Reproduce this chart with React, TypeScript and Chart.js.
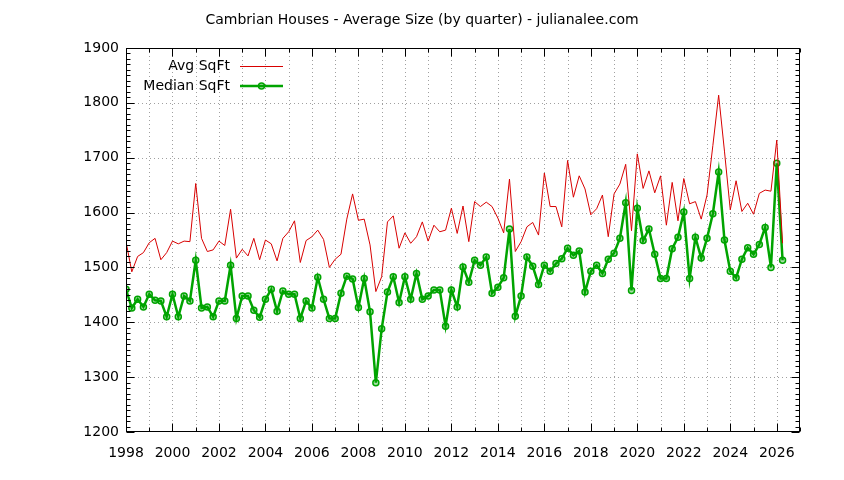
import React, { useEffect, useRef } from "react";
import { Chart, registerables } from "chart.js";

Chart.register(...registerables);

// ---- Data ----
const START_YEAR = 1998; // first quarter (Q1 1998); one point per quarter
const TITLE = "Cambrian Houses - Average Size (by quarter) - julianalee.com";
const SERIES_NAMES = ["Avg SqFt", "Median SqFt"];

const avgSqft = [
  1547, 1492, 1520, 1527, 1545, 1553, 1514, 1527, 1548, 1543,
  1548, 1547, 1653, 1553, 1529, 1532, 1548, 1540, 1606, 1517,
  1533, 1521, 1553, 1514, 1550, 1543, 1512, 1553, 1565, 1585,
  1509, 1549, 1556, 1568, 1551, 1500, 1515, 1524, 1588, 1634,
  1586, 1588, 1541, 1456, 1483, 1583, 1594, 1535, 1563, 1544,
  1556, 1583, 1548, 1577, 1565, 1568, 1608, 1562, 1612, 1547,
  1620, 1611, 1619, 1611, 1590, 1563, 1661, 1529, 1547, 1574,
  1582, 1559, 1672, 1611, 1611, 1574, 1695, 1628, 1667, 1643,
  1596, 1607, 1632, 1556, 1634, 1652, 1688, 1567, 1707, 1644,
  1676, 1636, 1667, 1577, 1655, 1585, 1662, 1616, 1620, 1588,
  1632, 1722, 1814, 1712, 1605, 1658, 1602, 1617, 1597, 1635,
  1641, 1639, 1732, 1544,
];

const medianSqft = [
  1460, 1426, 1442, 1428, 1451, 1440, 1439, 1410, 1451, 1410,
  1448, 1439, 1513, 1426, 1428, 1410, 1439, 1439, 1504, 1407,
  1448, 1448, 1422, 1409, 1442, 1460, 1420, 1457, 1451, 1451,
  1407, 1439, 1426, 1482, 1442, 1407, 1407, 1453, 1484, 1479,
  1427, 1480, 1419, 1290, 1388, 1455, 1483, 1436, 1483, 1442,
  1489, 1442, 1448, 1459, 1459, 1393, 1459, 1428, 1501, 1473,
  1513, 1504, 1519, 1453, 1464, 1481, 1570, 1411, 1448, 1519,
  1502, 1469, 1504, 1493, 1507, 1516, 1535, 1522, 1530, 1455,
  1493, 1504, 1489, 1515, 1526, 1553, 1618, 1458, 1608, 1549,
  1570, 1524, 1480, 1480, 1534, 1555, 1601, 1480, 1555, 1517,
  1553, 1598, 1674, 1550, 1493, 1481, 1515, 1536, 1524, 1542,
  1573, 1500, 1690, 1513,
];

// axis ranges / ticks
const X_MIN = 1998;
const X_MAX = 2027;
const X_LABEL_STEP = 2;
const Y_MIN = 1200;
const Y_MAX = 1900;
const Y_MAJOR = 100;
const Y_MINOR = 10;

// ---- Styles ----
const FONT = '"DejaVu Sans", Verdana, sans-serif';
const FONT_SIZE = 14;
const RED = "#d80000";
const GREEN = "#00a400";
const GRID = "#a0a0a0";

const toPoints = (vals: number[]) =>
  vals.map((v, i) => ({ x: START_YEAR + i / 4, y: v }));

const frame = {
  id: "gnuplotFrame",
  beforeDatasetsDraw(chart: any) {
    const { ctx, chartArea: a, scales } = chart;
    const x = scales.x;
    const y = scales.y;
    ctx.save();
    ctx.strokeStyle = GRID;
    ctx.lineWidth = 1;
    ctx.setLineDash([1, 3]);
    for (let yr = X_MIN + 1; yr < X_MAX; yr++) {
      const px = Math.round(x.getPixelForValue(yr)) + 0.5;
      ctx.beginPath();
      ctx.moveTo(px, a.top);
      ctx.lineTo(px, a.bottom);
      ctx.stroke();
    }
    for (let v = Y_MIN + Y_MAJOR; v < Y_MAX; v += Y_MAJOR) {
      const py = Math.round(y.getPixelForValue(v)) + 0.5;
      ctx.beginPath();
      ctx.moveTo(a.left, py);
      ctx.lineTo(a.right, py);
      ctx.stroke();
    }
    ctx.restore();
  },
  afterDatasetsDraw(chart: any) {
    const { ctx, chartArea: a, scales } = chart;
    const x = scales.x;
    const y = scales.y;
    const L = Math.round(a.left) + 0.5;
    const R = Math.round(a.right) - 0.5;
    const T = Math.round(a.top) + 0.5;
    const B = Math.round(a.bottom) - 0.5;
    ctx.save();
    ctx.setLineDash([]);
    ctx.strokeStyle = "#000";
    ctx.lineWidth = 1;
    // ticks (inward, mirrored)
    ctx.beginPath();
    for (let yr = X_MIN; yr <= X_MAX; yr++) {
      const px = Math.round(x.getPixelForValue(yr)) + 0.5;
      const len = (yr - X_MIN) % X_LABEL_STEP === 0 ? 8 : 4;
      ctx.moveTo(px, B);
      ctx.lineTo(px, B - len);
      ctx.moveTo(px, T);
      ctx.lineTo(px, T + len);
    }
    for (let v = Y_MIN; v <= Y_MAX; v += Y_MINOR) {
      const py = Math.round(y.getPixelForValue(v)) + 0.5;
      const len = (v - Y_MIN) % Y_MAJOR === 0 ? 8 : 4;
      ctx.moveTo(L, py);
      ctx.lineTo(L + len, py);
      ctx.moveTo(R, py);
      ctx.lineTo(R - len, py);
    }
    ctx.stroke();
    // border
    ctx.strokeRect(L, T, R - L, B - T);

    // legend
    ctx.font = `${FONT_SIZE}px ${FONT}`;
    ctx.fillStyle = "#000";
    ctx.textAlign = "right";
    ctx.textBaseline = "middle";
    const textRight = 230;
    const sx0 = 240;
    const sx1 = 283;
    const rows = [66, 86];
    ctx.fillText(SERIES_NAMES[0], textRight, rows[0]);
    ctx.fillText(SERIES_NAMES[1], textRight, rows[1]);
    ctx.strokeStyle = RED;
    ctx.lineWidth = 1;
    ctx.beginPath();
    ctx.moveTo(sx0, rows[0] + 0.5);
    ctx.lineTo(sx1, rows[0] + 0.5);
    ctx.stroke();
    ctx.strokeStyle = GREEN;
    ctx.lineWidth = 2.5;
    ctx.beginPath();
    ctx.moveTo(sx0, rows[1]);
    ctx.lineTo(sx1, rows[1]);
    ctx.stroke();
    ctx.lineWidth = 1.5;
    ctx.fillStyle = "rgba(0,164,0,0.35)";
    ctx.beginPath();
    ctx.arc((sx0 + sx1) / 2, rows[1], 3, 0, Math.PI * 2);
    ctx.fill();
    ctx.stroke();

    // title
    ctx.fillStyle = "#000";
    ctx.textAlign = "center";
    ctx.fillText(TITLE, chart.width / 2, 20);
    ctx.restore();
  },
};

export default function App() {
  const ref = useRef<HTMLCanvasElement>(null);
  useEffect(() => {
    if (!ref.current) return;
    const chart = new Chart(ref.current, {
      type: "scatter",
      data: {
        datasets: [
          {
            label: SERIES_NAMES[0],
            data: toPoints(avgSqft),
            showLine: true,
            borderColor: RED,
            borderWidth: 1,
            pointRadius: 0,
            tension: 0,
          },
          {
            label: SERIES_NAMES[1],
            data: toPoints(medianSqft),
            showLine: true,
            borderColor: GREEN,
            borderWidth: 2.5,
            pointRadius: 3,
            pointBorderWidth: 1.5,
            pointBorderColor: GREEN,
            pointBackgroundColor: "rgba(0,164,0,0.35)",
            tension: 0,
          },
        ],
      },
      options: {
        responsive: false,
        animation: false,
        devicePixelRatio: 1,
        events: [],
        layout: { padding: { top: 48, right: 44, left: 0, bottom: 0 } },
        plugins: {
          legend: { display: false },
          tooltip: { enabled: false },
          title: { display: false },
        },
        scales: {
          x: {
            type: "linear",
            min: X_MIN,
            max: X_MAX,
            grid: { display: false, drawTicks: false },
            border: { display: false },
            afterFit: (s: any) => {
              s.height = 48;
            },
            ticks: {
              stepSize: 1,
              autoSkip: false,
              maxRotation: 0,
              includeBounds: false,
              padding: 13,
              color: "#000",
              font: { family: FONT, size: FONT_SIZE },
              callback: (v: any) =>
                (Number(v) - X_MIN) % X_LABEL_STEP === 0 ? String(v) : "",
            },
          },
          y: {
            type: "linear",
            min: Y_MIN,
            max: Y_MAX,
            grid: { display: false, drawTicks: false },
            border: { display: false },
            afterFit: (s: any) => {
              s.width = 126;
            },
            ticks: {
              stepSize: Y_MAJOR,
              padding: 7,
              color: "#000",
              font: { family: FONT, size: FONT_SIZE },
              callback: (v: any) => String(v),
            },
          },
        },
      },
      plugins: [frame],
    } as any);
    return () => chart.destroy();
  }, []);
  return (
    <div
      style={{
        position: "fixed",
        left: 0,
        top: 0,
        width: 844,
        height: 480,
        background: "#fff",
      }}
    >
      <canvas
        ref={ref}
        width={844}
        height={480}
        style={{ display: "block", width: 844, height: 480 }}
      />
    </div>
  );
}
